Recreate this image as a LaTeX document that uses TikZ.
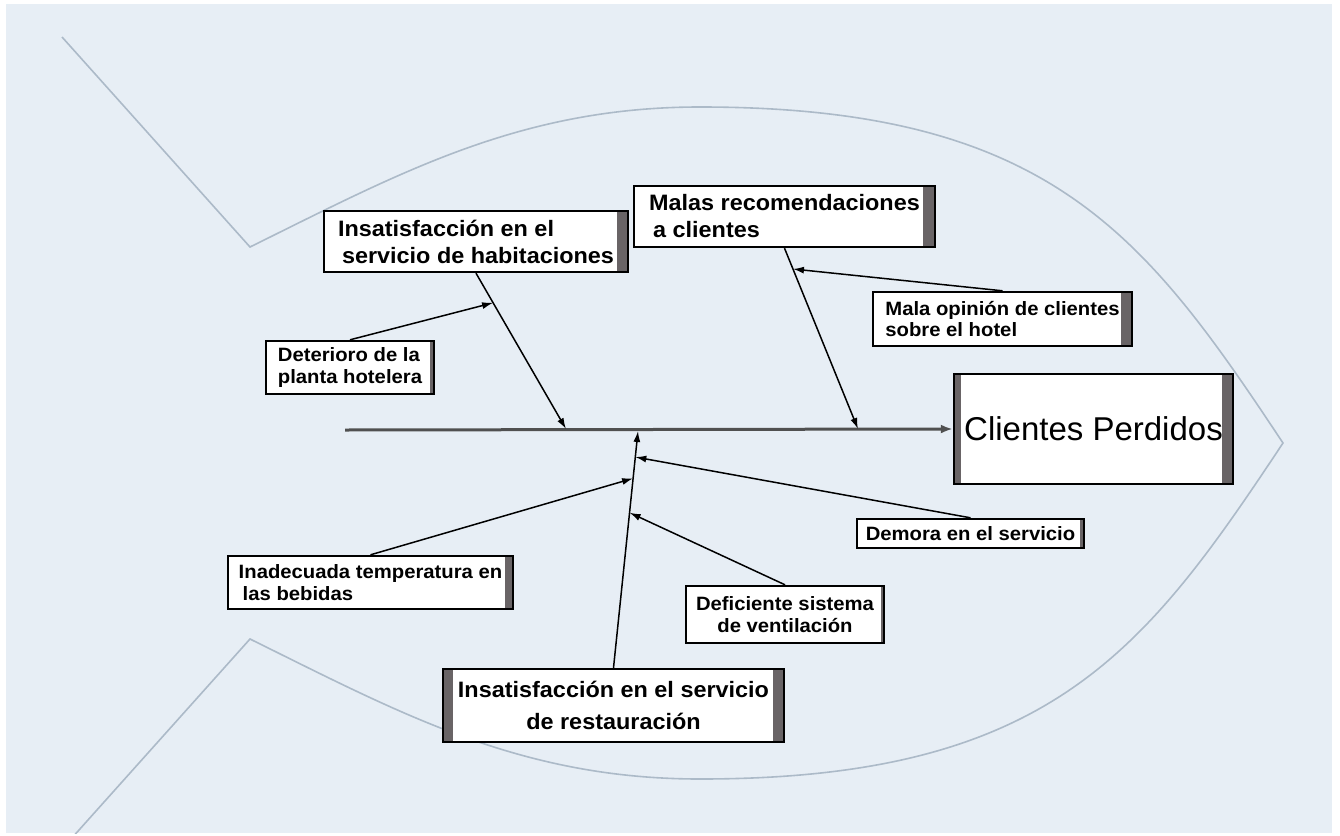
\documentclass[tikz,border=0pt]{standalone}
\usepackage{fontspec}
\setmainfont{Liberation Sans}
\newfontfamily\boxfont{Liberation Sans}[FakeStretch=1.05]
\usetikzlibrary{arrows.meta,calc}

\definecolor{paper}{RGB}{231,238,245}
\definecolor{fishline}{RGB}{172,186,200}
\definecolor{stripgray}{RGB}{105,100,102}
\definecolor{spinegray}{RGB}{80,80,80}

\tikzset{
  causebox/.style={draw=black, line width=2.4pt, fill=white, inner sep=0pt,
    align=left, anchor=center},
  bigtext/.style={font=\boxfont\bfseries\fontsize{22.3}{27}\selectfont},
  smalltext/.style={font=\boxfont\bfseries\fontsize{19.3}{21.5}\selectfont},
  strips/.style n args={2}{path picture={
      \fill[stripgray] (path picture bounding box.north west) rectangle
        ([xshift=#1]path picture bounding box.south west);
      \fill[stripgray] ([xshift=-#2]path picture bounding box.north east) rectangle
        (path picture bounding box.south east);}},
  arr/.style={draw=black, line width=1.5pt, -{Latex[length=11pt,width=7pt]}},
  spine/.style={draw=spinegray, line width=3pt, -{Latex[length=12pt,width=9pt]}},
  fish/.style={draw=fishline, line width=1.6pt, line join=miter}
}

\begin{document}
\begin{tikzpicture}[x=1pt,y=-1pt]
  \useasboundingbox (0,0) rectangle (1340,835);
  \fill[white] (0,0) rectangle (1340,835);
  \fill[paper] (6,4) rectangle (1332,833);

  % fish outline: tail and body
  \begin{scope}
    \clip (6,4) rectangle (1332,833);
    \draw[fish] (62,37) -- (250,247)
      .. controls (400,173) and (520,107) .. (700,107)
      .. controls (1050,107) and (1145,235) .. (1283,443)
      .. controls (1145,651) and (1050,779) .. (700,779)
      .. controls (520,779) and (400,713) .. (250,639)
      -- (62,849);
  \end{scope}

  % effect
  \node[causebox, strips={7}{11}, minimum width=279pt, minimum height=110pt,
        align=center, font=\fontsize{33}{40}\selectfont]
        (b4) at (1093.5,429) {Clientes Perdidos};

  % main causes
  \node[causebox, bigtext, strips={0}{11}, minimum width=304pt, minimum height=61pt]
        (b1) at (476,241.5) {Insatisfacción en el\\\hspace{4pt}servicio de habitaciones};
  \node[causebox, bigtext, strips={0}{12}, minimum width=301pt, minimum height=61pt]
        (b2) at (784.5,216.5) {Malas recomendaciones\\\hspace{4pt}a clientes};
  \node[causebox, strips={10}{11}, minimum width=341pt, minimum height=73pt,
        align=center, font=\boxfont\bfseries\fontsize{22.3}{32}\selectfont]
        (b9) at (613.5,705.5) {Insatisfacción en el servicio\\de restauración};

  % secondary causes
  \node[causebox, smalltext, strips={0}{11}, minimum width=259pt, minimum height=54pt]
        (b3) at (1002.5,319) {Mala opinión de clientes\\sobre el hotel};
  \node[causebox, smalltext, strips={0}{4}, minimum width=168pt, minimum height=53pt]
        (b5) at (350,367.5) {Deterioro de la\\planta hotelera};
  \node[causebox, smalltext, strips={0}{8}, minimum width=285pt, minimum height=53pt]
        (b6) at (370.5,582.5) {Inadecuada temperatura en\\\hspace{4pt}las bebidas};
  \node[causebox, smalltext, strips={0}{3}, minimum width=198pt, minimum height=57pt,
        align=center]
        (b7) at (785,614.5) {Deficiente sistema\\de ventilación};
  \node[causebox, smalltext, strips={0}{4}, minimum width=227pt, minimum height=29pt,
        align=center]
        (b8) at (970.5,533.5) {Demora en el servicio};

  % spine
  \coordinate (s0) at (345,430);
  \draw[spine] (s0) -- (b4.west);

  % main bones
  \coordinate (j1) at (566,429);
  \coordinate (j2) at (858,429);
  \coordinate (j9) at (638,431);
  \draw[arr] (b1.south) -- (j1);
  \draw[arr] (b2.south) -- (j2);
  \draw[arr] (b9.north) -- (j9);

  % secondary bones
  \coordinate (k5) at ($(b1.south)!0.19!(j1)$);
  \coordinate (k3) at ($(b2.south)!0.115!(j2)$);
  \coordinate (k6) at ($(b9.north)!0.80!(j9)$);
  \coordinate (k7) at ($(b9.north)!0.655!(j9)$);
  \coordinate (k8) at ($(b9.north)!0.89!(j9)$);
  \draw[arr] (b5.north) -- (k5);
  \draw[arr] (b3.north) -- (k3);
  \draw[arr] (b6.north) -- (k6);
  \draw[arr] (b7.north) -- (k7);
  \draw[arr] (b8.north) -- (k8);
\end{tikzpicture}
\end{document}
